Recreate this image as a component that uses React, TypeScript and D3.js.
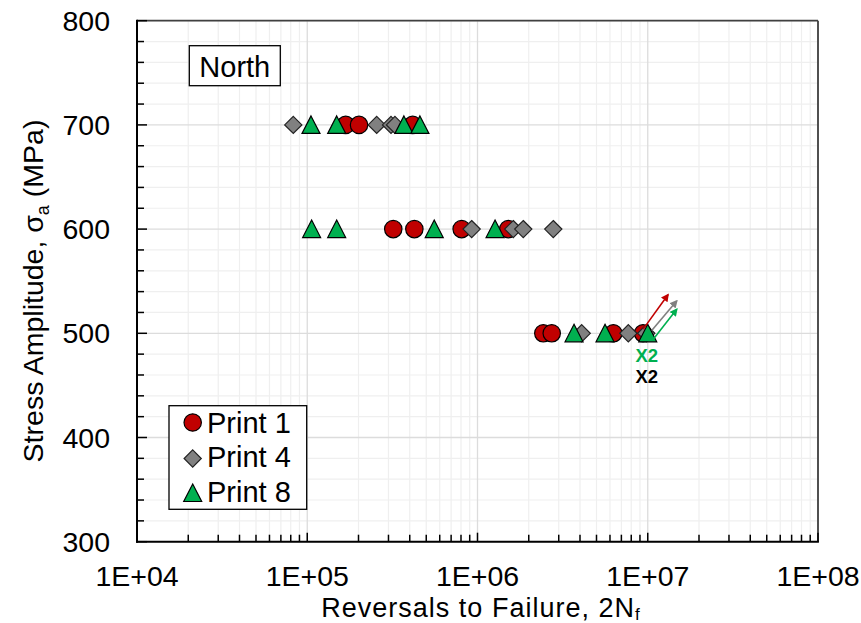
import React from "react";
import * as d3 from "d3";

const print1X700 = [168200, 201400, 416000];
const print4X700 = [82800, 255800, 310500, 327500];
const print8X700 = [105200, 148900, 369600, 459000];

const print1X600 = [320000, 425700, 807000, 1517000];
const print4X600 = [924000, 1622000, 1857000, 2787000];
const print8X600 = [106100, 148900, 557000, 1268000];

const print1X500 = [2435000, 2729000, 6280000, 9380000];
const print4X500 = [4093000, 7690000, 9800000];
const print8X500 = [3690000, 5611000, 10000000];

const stressLevels = [700, 600, 500];

const xTickValues = [1e4, 1e5, 1e6, 1e7, 1e8];
const xTickLabels = ["1E+04", "1E+05", "1E+06", "1E+07", "1E+08"];
const yTickValues = [300, 400, 500, 600, 700, 800];

// runout arrows: [x0, y0, x1, y1]
const arrowRed = [9.4e6, 504, 1.315e7, 537];
const arrowGray = [1.055e7, 502.7, 1.479e7, 531];
const arrowGreen = [1.069e7, 493.6, 1.48e7, 523];

const seriesNames = ["Print 1", "Print 4", "Print 8"];

const W = 861;
const H = 623;
const left = 137;
const right = 818;
const top = 20.7;
const bottom = 541.7;

const RED = "#c00000";
const GRAY = "#808080";
const GREEN = "#00b050";
const FONT = "'Liberation Sans', Arial, Helvetica, sans-serif";

const x = d3.scaleLog().domain([1e4, 1e8]).range([left, right]);
const y = d3.scaleLinear().domain([300, 800]).range([bottom, top]);

function Circle({ cx, cy }: { cx: number; cy: number }) {
  return <circle cx={cx} cy={cy} r={8.7} fill={RED} stroke="#000" strokeWidth={1.2} />;
}
function Diamond({ cx, cy }: { cx: number; cy: number }) {
  const s = 8.6;
  return (
    <path
      d={`M${cx},${cy - s}L${cx + s},${cy}L${cx},${cy + s}L${cx - s},${cy}Z`}
      fill={GRAY}
      stroke="#222"
      strokeWidth={1.2}
    />
  );
}
function Triangle({ cx, cy }: { cx: number; cy: number }) {
  const hw = 9;
  const h = 17;
  return (
    <path
      d={`M${cx},${cy - h / 2 - 0.5}L${cx + hw},${cy + h / 2}L${cx - hw},${cy + h / 2}Z`}
      fill={GREEN}
      stroke="#000"
      strokeWidth={1.2}
      strokeLinejoin="miter"
    />
  );
}

function Arrow({ a, color, id }: { a: number[]; color: string; id: string }) {
  return (
    <line
      x1={x(a[0])}
      y1={y(a[1])}
      x2={x(a[2])}
      y2={y(a[3])}
      stroke={color}
      strokeWidth={1.6}
      markerEnd={`url(#${id})`}
    />
  );
}

export default function App() {
  const minorX: number[] = [];
  for (let k = 4; k < 8; k++) {
    for (let m = 2; m <= 9; m++) minorX.push(m * Math.pow(10, k));
  }
  const gridY = d3.range(300, 801, 20);

  const rows = [
    { s: stressLevels[0], p1: print1X700, p4: print4X700, p8: print8X700 },
    { s: stressLevels[1], p1: print1X600, p4: print4X600, p8: print8X600 },
    { s: stressLevels[2], p1: print1X500, p4: print4X500, p8: print8X500 },
  ];

  return (
    <svg width={W} height={H} style={{ display: "block", position: "absolute", left: 0, top: 0 }} fontFamily={FONT}>
      <defs>
        {[["arR", RED], ["arG", GRAY], ["arN", GREEN]].map(([id, c]) => (
          <marker key={id} id={id} viewBox="0 0 10 10" refX="8" refY="5" markerWidth="5" markerHeight="5" orient="auto">
            <path d="M0,0L10,5L0,10Z" fill={c} />
          </marker>
        ))}
      </defs>
      <rect x={0} y={0} width={W} height={H} fill="#fff" />
      {/* minor grid */}
      {minorX.map((v) => (
        <line key={"mx" + v} x1={x(v)} x2={x(v)} y1={top} y2={bottom} stroke="#efefef" strokeWidth={1.2} />
      ))}
      {gridY.filter((v) => v % 100 !== 0).map((v) => (
        <line key={"my" + v} x1={left} x2={right} y1={y(v)} y2={y(v)} stroke="#efefef" strokeWidth={1.2} />
      ))}
      {/* major grid */}
      {xTickValues.map((v) => (
        <line key={"gx" + v} x1={x(v)} x2={x(v)} y1={top} y2={bottom} stroke="#dcdcdc" strokeWidth={1.3} />
      ))}
      {yTickValues.map((v) => (
        <line key={"gy" + v} x1={left} x2={right} y1={y(v)} y2={y(v)} stroke="#dcdcdc" strokeWidth={1.3} />
      ))}
      {/* frame */}
      <line x1={left} x2={right} y1={top} y2={top} stroke="#404040" strokeWidth={1.8} />
      <line x1={right} x2={right} y1={top} y2={bottom} stroke="#404040" strokeWidth={1.8} />
      {/* ticks */}
      {gridY.map((v) => (
        <line key={"ty" + v} x1={left} x2={left + (v % 100 === 0 ? 10 : 7)} y1={y(v)} y2={y(v)} stroke="#000" strokeWidth={1.5} />
      ))}
      {minorX.map((v) => (
        <line key={"tx" + v} x1={x(v)} x2={x(v)} y1={bottom} y2={bottom - 7} stroke="#000" strokeWidth={1.5} />
      ))}
      {xTickValues.map((v) => (
        <line key={"tX" + v} x1={x(v)} x2={x(v)} y1={bottom} y2={bottom - 9} stroke="#000" strokeWidth={1.5} />
      ))}
      <line x1={left} x2={left} y1={top - 0.9} y2={bottom + 1} stroke="#000" strokeWidth={2} />
      <line x1={left - 1} x2={right + 0.9} y1={bottom} y2={bottom} stroke="#000" strokeWidth={2} />
      {/* tick labels */}
      {yTickValues.map((v) => (
        <text key={"ly" + v} x={left - 27} y={y(v) + 10} fontSize={28.5} textAnchor="end" fill="#000">
          {v}
        </text>
      ))}
      {xTickValues.map((v, i) => (
        <text key={"lx" + v} x={x(v)} y={585.5} fontSize={28.5} textAnchor="middle" fill="#000">
          {xTickLabels[i]}
        </text>
      ))}
      {/* axis titles */}
      <text x={481} y={617} fontSize={27} letterSpacing={1} textAnchor="middle" fill="#000">
        Reversals to Failure, 2N<tspan fontSize={17} dy={3}>f</tspan>
      </text>
      <text transform={`translate(43,291) rotate(-90)`} fontSize={28.5} textAnchor="middle" fill="#000">
        Stress Amplitude, σ<tspan fontSize={18} dy={6}>a</tspan>
        <tspan dy={-6}> (MPa)</tspan>
      </text>
      {/* North label */}
      <rect x={189.3} y={45.7} width={91} height={40} fill="#fff" stroke="#000" strokeWidth={1.3} />
      <text x={234.8} y={76.5} fontSize={29} textAnchor="middle" fill="#000">
        North
      </text>
      {/* data */}
      {rows.map((r) => r.p1.map((v, i) => <Circle key={`c${r.s}-${i}`} cx={x(v)} cy={y(r.s)} />))}
      {rows.map((r) => r.p4.map((v, i) => <Diamond key={`d${r.s}-${i}`} cx={x(v)} cy={y(r.s)} />))}
      {rows.map((r) => r.p8.map((v, i) => <Triangle key={`t${r.s}-${i}`} cx={x(v)} cy={y(r.s)} />))}
      {/* runout arrows */}
      <Arrow a={arrowRed} color={RED} id="arR" />
      <Arrow a={arrowGray} color={GRAY} id="arG" />
      <Arrow a={arrowGreen} color={GREEN} id="arN" />
      <text x={646.7} y={362} fontSize={18.5} fontWeight="bold" textAnchor="middle" fill={GREEN}>
        X2
      </text>
      <text x={646.7} y={383} fontSize={18.5} fontWeight="bold" textAnchor="middle" fill="#000">
        X2
      </text>
      {/* legend */}
      <rect x={169} y={405.7} width={137.7} height={103.6} fill="#fff" stroke="#000" strokeWidth={1.3} />
      <Circle cx={192.7} cy={422.5} />
      <Diamond cx={192.7} cy={458.5} />
      <Triangle cx={192.7} cy={493} />
      {seriesNames.map((n, i) => (
        <text key={n} x={207} y={432.7 + i * 34.5} fontSize={29} fill="#000">
          {n}
        </text>
      ))}
    </svg>
  );
}
